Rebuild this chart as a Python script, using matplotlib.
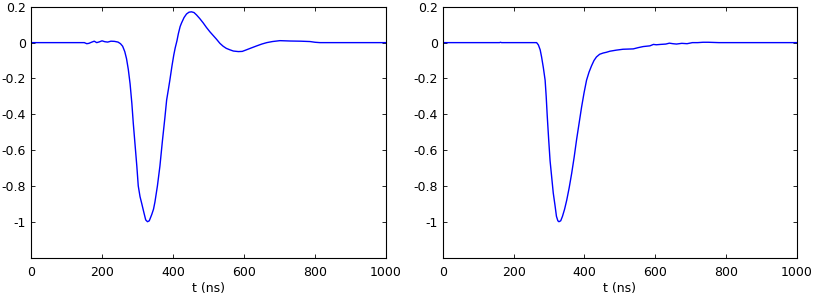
import matplotlib
matplotlib.use("Agg")
import matplotlib.pyplot as plt

# left pulse (bipolar), t in ns
t_left = [0, 150, 157, 163, 170, 178, 185, 192, 200, 208, 216, 225, 235, 245, 252,
          258, 264, 269, 274, 279, 284, 288, 293, 298, 302, 307, 312, 318, 323, 328,
          333, 340, 345, 349, 356, 363, 370, 377, 382, 387, 391, 397, 402, 406, 411,
          415, 420, 424, 431, 438, 445, 452, 459, 466, 475, 485, 494, 504, 513, 522,
          532, 541, 550, 560, 570, 584, 595, 607, 620, 636, 650, 664, 680, 701, 730,
          760, 786, 800, 814, 1000]
v_left = [0, 0, -0.006, -0.004, 0.002, 0.008, 0.0, 0.004, 0.01, 0.005, 0.003, 0.008, 0.007, 0.003, -0.006,
          -0.02, -0.05, -0.09, -0.15, -0.23, -0.34, -0.45, -0.57, -0.69, -0.80, -0.86, -0.90, -0.95, -0.99, -1.0,
          -0.995, -0.96, -0.93, -0.89, -0.80, -0.69, -0.55, -0.42, -0.32, -0.26, -0.21, -0.13, -0.07, -0.03, 0.01,
          0.05, 0.09, 0.11, 0.14, 0.16, 0.17, 0.172, 0.168, 0.155, 0.135, 0.11, 0.085, 0.06, 0.04, 0.02,
          -0.004, -0.02, -0.032, -0.04, -0.047, -0.05, -0.049, -0.04, -0.03, -0.018, -0.008, 0.0, 0.006, 0.011, 0.009,
          0.008, 0.006, 0.002, 0.0, 0.0]

# right pulse (unipolar)
t_right = [0, 160, 163, 166, 265, 270, 275, 279, 284, 289, 292, 295, 299, 303, 308,
           312, 317, 321, 325, 328, 333, 338, 344, 350, 357, 364, 371, 378, 385, 392,
           399, 406, 413, 420, 427, 434, 443, 453, 462, 472, 490, 509, 524, 538, 552,
           566, 585, 595, 603, 615, 630, 640, 650, 660, 675, 690, 700, 705, 720, 735,
           750, 780, 810, 1000]
v_right = [0, 0, 0.002, 0, 0, -0.013, -0.04, -0.08, -0.14, -0.21, -0.30, -0.41, -0.54, -0.66, -0.76,
           -0.84, -0.91, -0.97, -0.995, -1.0, -0.995, -0.97, -0.93, -0.88, -0.81, -0.73, -0.64, -0.54, -0.45, -0.36,
           -0.28, -0.21, -0.165, -0.13, -0.10, -0.08, -0.065, -0.058, -0.054, -0.048, -0.042, -0.037, -0.036, -0.035, -0.028,
           -0.022, -0.018, -0.01, -0.012, -0.01, -0.008, -0.003, -0.006, -0.008, -0.004, -0.006, -0.002, 0.0, 0.0, 0.002,
           0.002, 0.0, 0.0, 0.0]

yticks = [-1, -0.8, -0.6, -0.4, -0.2, 0, 0.2]
ytick_labels = ["-1", "-0.8", "-0.6", "-0.4", "-0.2", "0", "0.2"]
xticks = [0, 200, 400, 600, 800, 1000]

plt.rcParams["font.family"] = ["DejaVu Sans"]
plt.rcParams["font.size"] = 9

fig = plt.figure(figsize=(8.17, 2.96), dpi=100)
ax1 = fig.add_axes([0.038, 0.130, 0.4345, 0.847])
ax2 = fig.add_axes([0.542, 0.130, 0.4333, 0.847])

for ax, t, v in [(ax1, t_left, v_left), (ax2, t_right, v_right)]:
    ax.plot(t, v, color="#0000ff", lw=1.0)
    ax.set_xlim(0, 1000)
    ax.set_ylim(-1.2, 0.2)
    ax.set_xticks(xticks)
    ax.set_yticks(yticks)
    ax.set_yticklabels(ytick_labels)
    ax.tick_params(direction="in", top=True, right=True, length=3, width=0.6)
    ax.tick_params(axis="x", pad=6)
    ax.tick_params(axis="y", pad=3.5)
    for s in ax.spines.values():
        s.set_linewidth(0.8)
    ax.set_xlabel("t (ns)", labelpad=2)

fig.savefig("out.png", dpi=100)
